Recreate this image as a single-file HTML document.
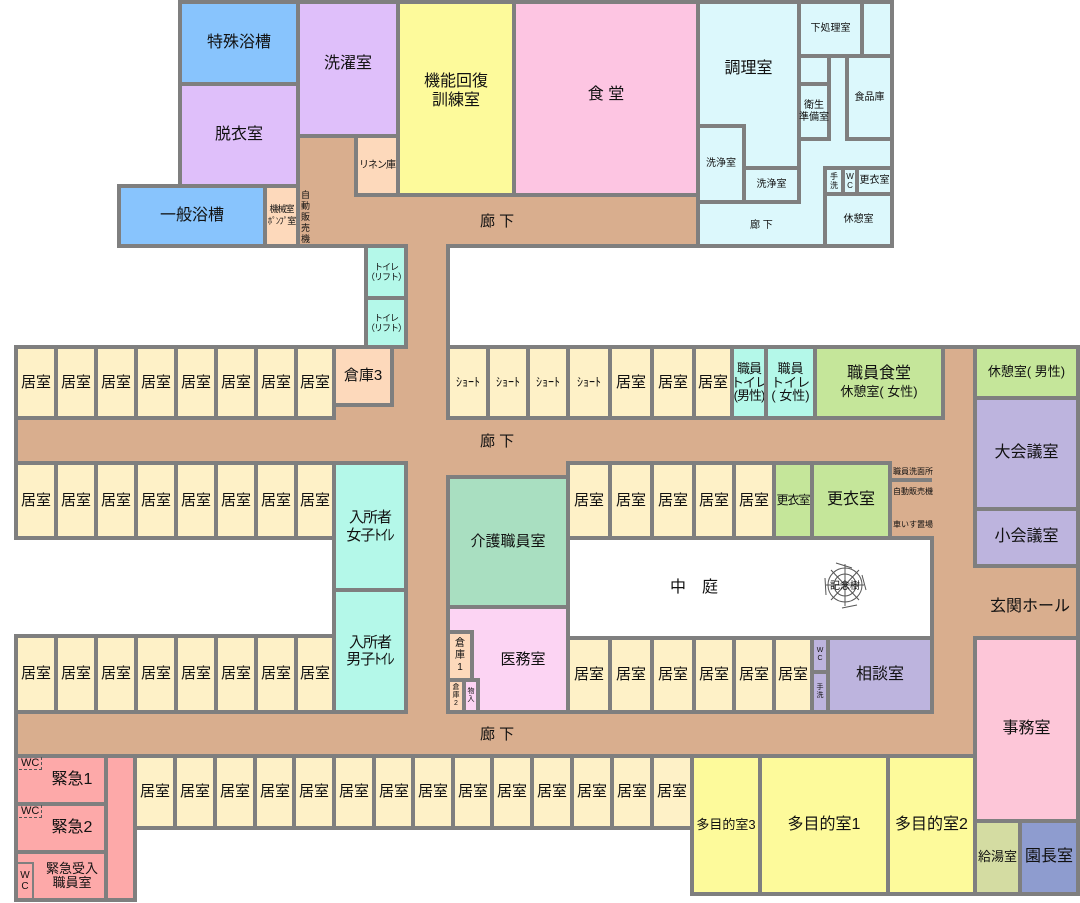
<!DOCTYPE html>
<html><head><meta charset="utf-8"><style>
body{margin:0;width:1080px;height:903px;background:#fff;position:relative;overflow:hidden;font-family:"Liberation Sans","Noto Sans CJK JP",sans-serif;color:#111}
.r{position:absolute;box-sizing:border-box;border:4px solid #7f7f7f;display:flex;align-items:center;justify-content:center;text-align:center;font-size:15px;line-height:1.15;white-space:nowrap}
.p{position:absolute}
.t{position:absolute;font-size:15px;white-space:nowrap}
.k{background:#fef1c7}
.s{font-size:10px}
</style></head><body>
<!-- top block -->
<div class="r" style="left:178px;top:0;width:716px;height:248px;background:#d9ae8e"></div>
<div class="r" style="left:117px;top:184px;width:150px;height:64px;background:#88c4fd;font-size:16px">一般浴槽</div>
<div class="r s" style="left:263px;top:184px;width:37px;height:64px;background:#fdd9bb;line-height:1.3;font-size:9px;letter-spacing:-1px">機械室<br>ﾎﾟﾝﾌﾟ室</div>
<div class="r" style="left:178px;top:0;width:122px;height:86px;background:#88c4fd;font-size:16px">特殊浴槽</div>
<div class="r" style="left:178px;top:82px;width:122px;height:106px;background:#dfbffa;font-size:16px">脱衣室</div>
<div class="r" style="left:296px;top:0;width:104px;height:138px;background:#dfbffa;font-size:16px;padding-bottom:10px">洗濯室</div>
<div class="r s" style="left:354px;top:134px;width:46px;height:63px;background:#fdd9bb;letter-spacing:-1px">リネン庫</div>
<div class="r" style="left:396px;top:0;width:120px;height:197px;background:#fdfa9b;font-size:16px;padding-bottom:14px">機能回復<br>訓練室</div>
<div class="r" style="left:512px;top:0;width:188px;height:197px;background:#fdc5e2;font-size:16px;padding-bottom:6px">食 堂</div>
<div class="t s" style="left:301px;top:190px;width:10px;white-space:normal;line-height:11px;font-size:9px">自動販売機</div>
<div class="t" style="left:480px;top:210px;font-size:15px">廊 下</div>
<!-- kitchen -->
<div class="r" style="left:696px;top:0;width:198px;height:248px;background:#dcf8fc"></div>
<div class="r" style="left:696px;top:0;width:105px;height:204px;background:#dcf8fc;align-items:flex-start;padding-top:56px;font-size:16px">調理室</div>
<div class="r s" style="left:696px;top:124px;width:50px;height:80px;background:#dcf8fc">洗浄室</div>
<div class="r s" style="left:742px;top:166px;width:59px;height:38px;background:#dcf8fc">洗浄室</div>
<div class="r s" style="left:797px;top:0;width:67px;height:58px;background:#dcf8fc">下処理室</div>
<div class="r s" style="left:797px;top:54px;width:34px;height:32px;background:#dcf8fc"></div>
<div class="r s" style="left:797px;top:82px;width:34px;height:59px;background:#dcf8fc">衛生<br>準備室</div>
<div class="r s" style="left:845px;top:54px;width:49px;height:87px;background:#dcf8fc">食品庫</div>
<div class="r" style="left:823px;top:166px;width:22px;height:30px;background:#dcf8fc;font-size:8px">手<br>洗</div>
<div class="r" style="left:841px;top:166px;width:18px;height:30px;background:#dcf8fc;font-size:8px">W<br>C</div>
<div class="r s" style="left:855px;top:166px;width:39px;height:30px;background:#dcf8fc">更衣室</div>
<div class="r s" style="left:823px;top:192px;width:71px;height:56px;background:#dcf8fc">休憩室</div>
<div class="t s" style="left:750px;top:216px">廊 下</div>
<!-- toilets lift -->
<div class="r s" style="left:364px;top:244px;width:44px;height:56px;background:#b4f8e9;font-size:9px;letter-spacing:-1px">トイレ<br>（リフト）</div>
<div class="r s" style="left:364px;top:296px;width:44px;height:54px;background:#b4f8e9;font-size:9px;letter-spacing:-1px">トイレ<br>（リフト）</div>
<!-- middle block -->
<div class="r" style="left:14px;top:345px;width:963px;height:413px;background:#d9ae8e"></div>
<div class="p" style="left:408px;top:240px;width:38px;height:112px;background:#d9ae8e"></div>
<div class="p" style="left:446px;top:246px;width:4px;height:102px;background:#7f7f7f"></div>
<div class="p" style="left:10px;top:540px;width:324px;height:94px;background:#fff"></div>
<div class="r" style="left:973px;top:345px;width:107px;height:551px;background:#d9ae8e"></div>
<!-- row1 left -->
<div class="r k" style="left:14px;top:345px;width:44px;height:75px">居室</div>
<div class="r k" style="left:54px;top:345px;width:44px;height:75px">居室</div>
<div class="r k" style="left:94px;top:345px;width:44px;height:75px">居室</div>
<div class="r k" style="left:134px;top:345px;width:44px;height:75px">居室</div>
<div class="r k" style="left:174px;top:345px;width:44px;height:75px">居室</div>
<div class="r k" style="left:214px;top:345px;width:44px;height:75px">居室</div>
<div class="r k" style="left:254px;top:345px;width:44px;height:75px">居室</div>
<div class="r k" style="left:294px;top:345px;width:42px;height:75px">居室</div>
<div class="r" style="left:332px;top:345px;width:62px;height:62px;background:#fdd9bb">倉庫3</div>
<!-- row1 right -->
<div class="r k" style="left:446px;top:345px;width:44px;height:75px;font-size:12px">ｼｮｰﾄ</div>
<div class="r k" style="left:486px;top:345px;width:44px;height:75px;font-size:12px">ｼｮｰﾄ</div>
<div class="r k" style="left:526px;top:345px;width:44px;height:75px;font-size:12px">ｼｮｰﾄ</div>
<div class="r k" style="left:566px;top:345px;width:46px;height:75px;font-size:12px">ｼｮｰﾄ</div>
<div class="r k" style="left:608px;top:345px;width:46px;height:75px">居室</div>
<div class="r k" style="left:650px;top:345px;width:46px;height:75px">居室</div>
<div class="r k" style="left:692px;top:345px;width:42px;height:75px">居室</div>
<div class="r" style="left:730px;top:345px;width:38px;height:75px;background:#b4f8e9;font-size:13px;line-height:1.05;letter-spacing:-1px"><div>職員<br>トイレ<br>(男性)</div></div>
<div class="r" style="left:764px;top:345px;width:53px;height:75px;background:#b4f8e9;font-size:13px;line-height:1.05"><div>職員<br>トイレ<br>( 女性)</div></div>
<div class="r" style="left:813px;top:345px;width:132px;height:75px;background:#c5e69a;font-size:16px;line-height:1.1"><div>職員食堂<br><span style="font-size:13px">休憩室( 女性)</span></div></div>
<div class="t" style="left:480px;top:430px">廊 下</div>
<!-- right column -->
<div class="r" style="left:973px;top:345px;width:107px;height:55px;background:#c5e69a;font-size:13px">休憩室( 男性)</div>
<div class="r" style="left:973px;top:396px;width:107px;height:115px;background:#bdb4de;font-size:16px">大会議室</div>
<div class="r" style="left:973px;top:507px;width:107px;height:61px;background:#bdb4de;font-size:16px">小会議室</div>
<div class="p" style="left:970px;top:568px;width:106px;height:68px;background:#d9ae8e"></div>
<div class="t" style="left:990px;top:592px;font-size:16px">玄関ホール</div>
<div class="r" style="left:973px;top:636px;width:107px;height:187px;background:#fdc6d8;font-size:16px">事務室</div>
<div class="r" style="left:973px;top:819px;width:49px;height:77px;background:#d4dca2;font-size:13px">給湯室</div>
<div class="r" style="left:1018px;top:819px;width:62px;height:77px;background:#8e9ccf;font-size:16px">園長室</div>
<!-- row2 left -->
<div class="r k" style="left:14px;top:461px;width:44px;height:79px">居室</div>
<div class="r k" style="left:54px;top:461px;width:44px;height:79px">居室</div>
<div class="r k" style="left:94px;top:461px;width:44px;height:79px">居室</div>
<div class="r k" style="left:134px;top:461px;width:44px;height:79px">居室</div>
<div class="r k" style="left:174px;top:461px;width:44px;height:79px">居室</div>
<div class="r k" style="left:214px;top:461px;width:44px;height:79px">居室</div>
<div class="r k" style="left:254px;top:461px;width:44px;height:79px">居室</div>
<div class="r k" style="left:294px;top:461px;width:42px;height:79px">居室</div>
<div class="r" style="left:332px;top:461px;width:76px;height:131px;background:#b4f8e9;letter-spacing:-1px">入所者<br>女子ﾄｲﾚ</div>
<div class="r" style="left:332px;top:588px;width:76px;height:126px;background:#b4f8e9;letter-spacing:-1px">入所者<br>男子ﾄｲﾚ</div>
<!-- row3 left -->
<div class="r k" style="left:14px;top:634px;width:44px;height:80px">居室</div>
<div class="r k" style="left:54px;top:634px;width:44px;height:80px">居室</div>
<div class="r k" style="left:94px;top:634px;width:44px;height:80px">居室</div>
<div class="r k" style="left:134px;top:634px;width:44px;height:80px">居室</div>
<div class="r k" style="left:174px;top:634px;width:44px;height:80px">居室</div>
<div class="r k" style="left:214px;top:634px;width:44px;height:80px">居室</div>
<div class="r k" style="left:254px;top:634px;width:44px;height:80px">居室</div>
<div class="r k" style="left:294px;top:634px;width:42px;height:80px">居室</div>
<!-- center -->
<div class="r" style="left:446px;top:475px;width:124px;height:134px;background:#a9dfc1">介護職員室</div>
<div class="r" style="left:446px;top:605px;width:124px;height:109px;background:#fcd4f3;padding-left:30px">医務室</div>
<div class="r s" style="left:446px;top:630px;width:28px;height:52px;background:#fdd9bb;line-height:1.2">倉<br>庫<br>1</div>
<div class="r" style="left:446px;top:678px;width:20px;height:36px;background:#fdd9bb;font-size:7px">倉<br>庫<br>2</div>
<div class="r" style="left:462px;top:678px;width:18px;height:36px;background:#fcd4f3;font-size:7px">物<br>入</div>
<!-- row2 right -->
<div class="r k" style="left:566px;top:461px;width:46px;height:79px">居室</div>
<div class="r k" style="left:608px;top:461px;width:46px;height:79px">居室</div>
<div class="r k" style="left:650px;top:461px;width:46px;height:79px">居室</div>
<div class="r k" style="left:692px;top:461px;width:44px;height:79px">居室</div>
<div class="r k" style="left:732px;top:461px;width:44px;height:79px">居室</div>
<div class="r" style="left:772px;top:461px;width:42px;height:79px;background:#c5e69a;font-size:12px;letter-spacing:-1px">更衣室</div>
<div class="r" style="left:810px;top:461px;width:82px;height:79px;background:#c5e69a;font-size:16px">更衣室</div>
<div class="p" style="left:890px;top:478px;width:42px;height:4px;background:#7f7f7f"></div>
<div class="t" style="left:893px;top:466px;font-size:8px">職員洗面所</div>
<div class="t" style="left:893px;top:486px;font-size:8px">自動販売機</div>
<div class="t" style="left:893px;top:519px;font-size:8px">車いす置場</div>
<div class="r" style="left:566px;top:536px;width:368px;height:104px;background:#fff;font-size:16px;justify-content:flex-start;padding-left:100px">中　庭</div>
<svg class="p" style="left:822px;top:560px" width="46" height="50" viewBox="0 0 46 50"><g fill="none" stroke="#555" stroke-width="1"><circle cx="23" cy="25" r="11"/><circle cx="23" cy="25" r="17"/><path d="M23 4L23 46M4 25L42 25M9 10L37 40M37 10L9 40M14 3L30 8M40 15L44 30M35 45L20 48M4 35L3 18"/></g><text x="23" y="29" font-size="10" text-anchor="middle" font-family="Liberation Sans,Noto Sans CJK JP,sans-serif" fill="#111">記念樹</text></svg>
<!-- row3 right -->
<div class="r k" style="left:566px;top:636px;width:46px;height:78px">居室</div>
<div class="r k" style="left:608px;top:636px;width:46px;height:78px">居室</div>
<div class="r k" style="left:650px;top:636px;width:46px;height:78px">居室</div>
<div class="r k" style="left:692px;top:636px;width:44px;height:78px">居室</div>
<div class="r k" style="left:732px;top:636px;width:44px;height:78px">居室</div>
<div class="r k" style="left:772px;top:636px;width:42px;height:78px">居室</div>
<div class="r" style="left:810px;top:636px;width:20px;height:38px;background:#bdb4de;font-size:7px">W<br>C</div>
<div class="r" style="left:810px;top:670px;width:20px;height:44px;background:#bdb4de;font-size:7px">手<br>洗</div>
<div class="r" style="left:826px;top:636px;width:108px;height:78px;background:#bdb4de;font-size:16px">相談室</div>
<div class="t" style="left:480px;top:723px">廊 下</div>
<!-- bottom -->
<div class="r" style="left:14px;top:754px;width:123px;height:148px;background:#fda9a9"></div>
<div class="r" style="left:14px;top:754px;width:94px;height:52px;background:#fda9a9;font-size:16px;padding-left:22px">緊急1</div>
<div class="r" style="left:14px;top:802px;width:94px;height:52px;background:#fda9a9;font-size:16px;padding-left:22px">緊急2</div>
<div class="r" style="left:14px;top:850px;width:94px;height:52px;background:#fda9a9;font-size:13px;padding-left:22px;line-height:1.1"><div>緊急受入<br>職員室</div></div>
<div class="t" style="left:19px;top:757px;font-size:11px;border:1px dashed #555;border-left:none;border-top:none;padding:0 2px">WC</div>
<div class="t" style="left:19px;top:805px;font-size:11px;border:1px dashed #555;border-left:none;border-top:none;padding:0 2px">WC</div>
<div class="r" style="left:16px;top:862px;width:18px;height:38px;background:#fda9a9;font-size:10px;border-width:2px">W<br>C</div>
<div class="r k" style="left:133px;top:754px;width:44px;height:76px">居室</div>
<div class="r k" style="left:173px;top:754px;width:44px;height:76px">居室</div>
<div class="r k" style="left:213px;top:754px;width:44px;height:76px">居室</div>
<div class="r k" style="left:253px;top:754px;width:44px;height:76px">居室</div>
<div class="r k" style="left:292px;top:754px;width:44px;height:76px">居室</div>
<div class="r k" style="left:332px;top:754px;width:44px;height:76px">居室</div>
<div class="r k" style="left:372px;top:754px;width:44px;height:76px">居室</div>
<div class="r k" style="left:411px;top:754px;width:44px;height:76px">居室</div>
<div class="r k" style="left:451px;top:754px;width:44px;height:76px">居室</div>
<div class="r k" style="left:490px;top:754px;width:44px;height:76px">居室</div>
<div class="r k" style="left:530px;top:754px;width:44px;height:76px">居室</div>
<div class="r k" style="left:570px;top:754px;width:44px;height:76px">居室</div>
<div class="r k" style="left:610px;top:754px;width:44px;height:76px">居室</div>
<div class="r k" style="left:650px;top:754px;width:44px;height:76px">居室</div>
<div class="r" style="left:690px;top:754px;width:72px;height:142px;background:#fdfa9b;font-size:13px">多目的室3</div>
<div class="r" style="left:758px;top:754px;width:132px;height:142px;background:#fdfa9b;font-size:16px">多目的室1</div>
<div class="r" style="left:886px;top:754px;width:91px;height:142px;background:#fdfa9b;font-size:16px">多目的室2</div>
</body></html>
